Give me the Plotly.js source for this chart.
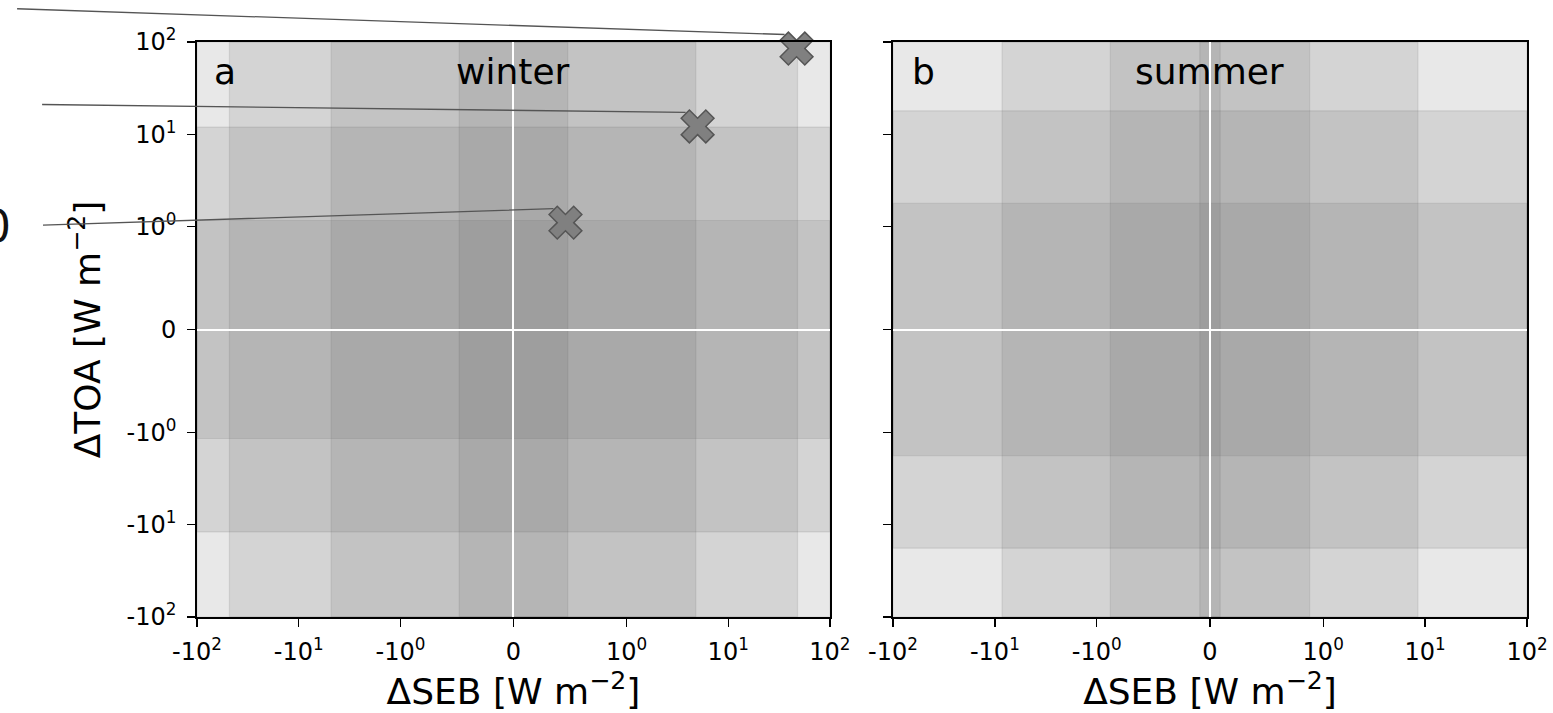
<!DOCTYPE html>
<html>
<head>
<meta charset="utf-8">
<script src="https://cdn.plot.ly/plotly-3.0.1.min.js"></script>
<style>html,body{margin:0;padding:0;background:#fff;}#chart{width:1553px;height:713px;}</style>
</head>
<body>
<div id="chart"></div>
<script>
// ---- data ----
const tickValues = [-100, -10, -1, 0, 1, 10, 100];
const tickLabels = ['-10<sup>2</sup>', '-10<sup>1</sup>', '-10<sup>0</sup>', '0', '10<sup>0</sup>', '10<sup>1</sup>', '10<sup>2</sup>'];
const panelLabels = ['a', 'b'];
const seasonLabels = ['winter', 'summer'];
const winterSEB = [47, 5.0, 0.46];
const winterTOA = [85, 12.2, 1.11];
const sideLabels = [' ', ' ', '0'];
const winterBandSEB = [48, 4.8, 0.48];
const winterBandTOA = [100, 12, 1.17];
const summerBandSEB = [8.5, 0.88, 0.09];
const summerBandTOA = [100, 18, 1.8];
const xTitle = 'ΔSEB [W m<sup>−2</sup>]';
const yTitle = 'ΔTOA [W m<sup>−2</sup>]';

// symmetric log transform (linthresh 1, linscale 1, base 10)
const LS = 1 / (1 - 1 / 10);
function symlog(v) {
  const a = Math.abs(v);
  const t = a <= 1 ? a * LS : LS + Math.log10(a);
  return v < 0 ? -t : t;
}
const R = symlog(100);

const bandFill = 'rgba(100,100,100,0.15)';
const shapes = [];
function addBands(xr, yr, seb, toa) {
  seb.forEach(w => shapes.push({type: 'rect', layer: 'below', xref: xr, yref: yr + ' domain',
    x0: symlog(-w), x1: symlog(w), y0: 0, y1: 1, fillcolor: bandFill, line: {color: bandFill, width: 1.2}}));
  toa.forEach(h => shapes.push({type: 'rect', layer: 'below', xref: xr + ' domain', yref: yr,
    x0: 0, x1: 1, y0: symlog(-h), y1: symlog(h), fillcolor: bandFill, line: {color: bandFill, width: 1.2}}));
}
addBands('x', 'y', winterBandSEB, winterBandTOA);
addBands('x2', 'y2', summerBandSEB, summerBandTOA);

const traces = [{
  type: 'scatter', mode: 'markers', xaxis: 'x', yaxis: 'y',
  x: winterSEB.map(symlog), y: winterTOA.map(symlog),
  cliponaxis: false,
  marker: {symbol: 'x', size: 29, color: '#808080', line: {color: '#555555', width: 1.5}},
  hoverinfo: 'skip'
}];

const tv = tickValues.map(symlog);
function axisBase() {
  return {
    range: [-R, R], tickmode: 'array', tickvals: tv, ticktext: tickLabels,
    ticks: 'outside', ticklen: 8, tickwidth: 1.3, tickcolor: '#000',
    tickfont: {size: 24, color: '#000'},
    showline: true, linecolor: '#000', linewidth: 1.8, mirror: true,
    showgrid: false, zeroline: true, zerolinecolor: '#ffffff', zerolinewidth: 2,
    automargin: false, fixedrange: true
  };
}
const xa = Object.assign(axisBase(), {domain: [0, 0.4759], anchor: 'y', ticklabelstandoff: 4,
  title: {text: xTitle, font: {size: 36, color: '#000'}, standoff: 14}});
const ya = Object.assign(axisBase(), {domain: [0, 1], anchor: 'x', ticklabelstandoff: 6,
  title: {text: yTitle, font: {size: 36, color: '#000'}, standoff: 15}});
const xa2 = Object.assign(axisBase(), {domain: [0.5233, 1], anchor: 'y2', ticklabelstandoff: 4,
  title: {text: xTitle, font: {size: 36, color: '#000'}, standoff: 14}});
const ya2 = Object.assign(axisBase(), {domain: [0, 1], anchor: 'x2', showticklabels: false});

const annotations = [];
const axRefs = [['x', 'y'], ['x2', 'y2']];
panelLabels.forEach((t, i) => annotations.push({xref: axRefs[i][0] + ' domain', yref: axRefs[i][1] + ' domain',
  x: i === 0 ? 0.045 : 0.048, y: 0.948, text: t, showarrow: false, font: {size: 36, color: '#000'},
  xanchor: 'center', yanchor: 'middle'}));
seasonLabels.forEach((t, i) => annotations.push({xref: axRefs[i][0] + ' domain', yref: axRefs[i][1] + ' domain',
  x: 0.5, y: 0.948, text: t, showarrow: false, font: {size: 36, color: '#000'},
  xanchor: 'center', yanchor: 'middle'}));

// connector lines from labels outside the figure to the markers
const lineTail = [[-775, -26], [-651, -8], [-556, 18]];
winterSEB.forEach((v, i) => annotations.push({
  xref: 'x', yref: 'y', x: symlog(v), y: symlog(winterTOA[i]),
  xshift: -12, yshift: 14,
  text: sideLabels[i], font: {size: 44, color: '#111'},
  showarrow: true, arrowhead: 0, arrowwidth: 1.3, arrowcolor: '#555555',
  ax: lineTail[i][0], ay: lineTail[i][1], borderpad: i === 2 ? 31 : 0, standoff: 0
}));

const layout = {
  width: 1553, height: 713,
  margin: {l: 197, r: 26, t: 42, b: 96, pad: 0},
  paper_bgcolor: '#ffffff', plot_bgcolor: '#ffffff',
  font: {family: 'DejaVu Sans', color: '#000'},
  showlegend: false,
  xaxis: xa, yaxis: ya, xaxis2: xa2, yaxis2: ya2,
  shapes: shapes, annotations: annotations
};
Plotly.newPlot('chart', traces, layout, {displayModeBar: false, staticPlot: true});
</script>
</body>
</html>
